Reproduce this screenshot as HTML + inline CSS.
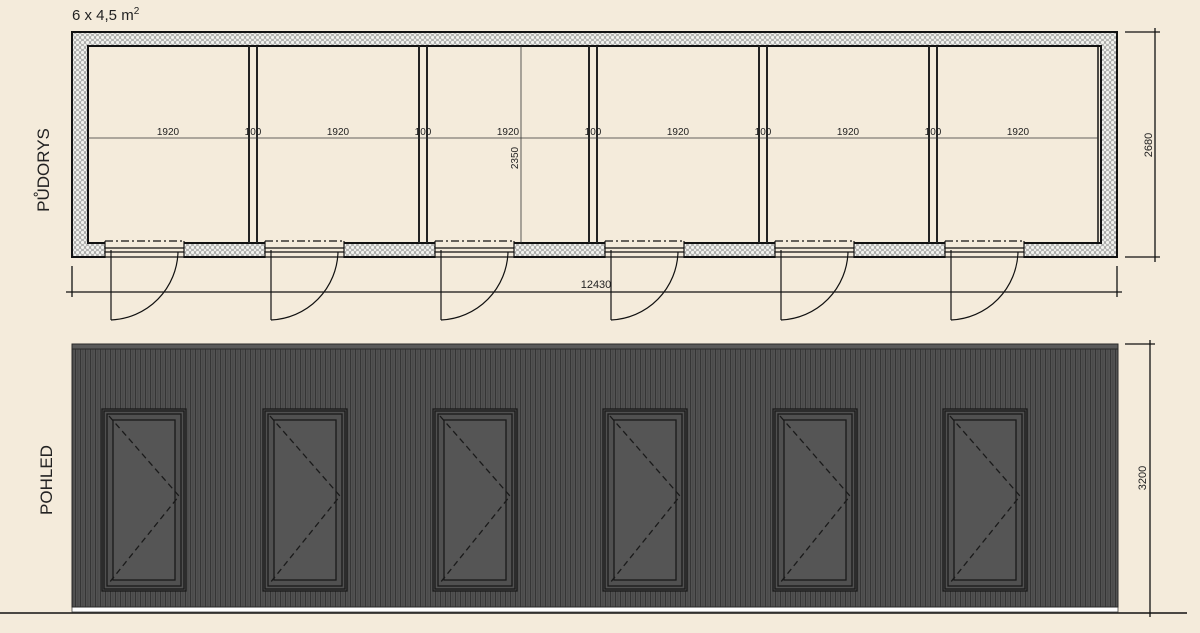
<!DOCTYPE html>
<html><head><meta charset="utf-8"><style>
html,body{margin:0;padding:0;background:#f4ebdb;}
svg{display:block;font-family:"Liberation Sans",sans-serif;}
</style></head><body>
<svg width="1200" height="633" viewBox="0 0 1200 633" xmlns="http://www.w3.org/2000/svg">
<defs>
<pattern id="ins" width="5" height="5" patternUnits="userSpaceOnUse">
<rect width="5" height="5" fill="#f2f2ee"/>
<circle cx="2.5" cy="2.5" r="2" fill="none" stroke="#777" stroke-width="0.6"/>
</pattern>
<pattern id="clad" width="5" height="10" patternUnits="userSpaceOnUse">
<rect width="5" height="10" fill="#525252"/>
<rect x="0" width="1" height="10" fill="#353535"/>
<rect x="2.5" width="0.8" height="10" fill="#444"/>
</pattern>
</defs>
<rect width="1200" height="633" fill="#f4ebdb"/>

<text x="72" y="20" font-size="15" fill="#222">6 x 4,5 m<tspan dy="-6" font-size="10">2</tspan></text>
<text transform="translate(49,170) rotate(-90)" text-anchor="middle" font-size="17" fill="#222">PŮDORYS</text>
<text transform="translate(52,480) rotate(-90)" text-anchor="middle" font-size="17" fill="#222">POHLED</text>

<path d="M72,32 H1117 V257 H72 Z M88,46 V243 H1101 V46 Z" fill="url(#ins)" fill-rule="evenodd" stroke="#111" stroke-width="2"/>
<rect x="88" y="46" width="1013" height="197" fill="#f4ebdb" stroke="#111" stroke-width="2"/>
<line x1="1098" y1="46" x2="1098" y2="243" stroke="#111" stroke-width="1.5"/>
<g stroke="#222" stroke-width="2" fill="none">
<line x1="249" y1="46" x2="249" y2="243"/><line x1="257" y1="46" x2="257" y2="243"/>
<line x1="419" y1="46" x2="419" y2="243"/><line x1="427" y1="46" x2="427" y2="243"/>
<line x1="589" y1="46" x2="589" y2="243"/><line x1="597" y1="46" x2="597" y2="243"/>
<line x1="759" y1="46" x2="759" y2="243"/><line x1="767" y1="46" x2="767" y2="243"/>
<line x1="929" y1="46" x2="929" y2="243"/><line x1="937" y1="46" x2="937" y2="243"/>
</g>
<g stroke="#111" stroke-width="1.2" fill="none">
<g id="door">
<rect x="105" y="241" width="79" height="17" fill="#f4ebdb" stroke="none"/>
<line x1="105" y1="241" x2="184" y2="241" stroke-dasharray="8,3,2,3"/>
<line x1="105" y1="241" x2="105" y2="258"/><line x1="184" y1="241" x2="184" y2="258"/>
<line x1="105" y1="248" x2="184" y2="248"/><line x1="105" y1="252" x2="184" y2="252"/><line x1="105" y1="257" x2="184" y2="257"/>
<line x1="111" y1="250" x2="111" y2="320"/>
<path d="M111,320 A70,70 0 0 0 178,252"/>
</g>
<use href="#door" x="160"/><use href="#door" x="330"/><use href="#door" x="500"/><use href="#door" x="670"/><use href="#door" x="840"/>
</g>
<g stroke="#333" stroke-width="0.8">
<line x1="88" y1="138" x2="1098" y2="138"/>
<line x1="521" y1="46" x2="521" y2="243"/>
</g>
<g font-size="10" fill="#222" text-anchor="middle">
<text x="168" y="135">1920</text><text x="253" y="135">100</text>
<text x="338" y="135">1920</text><text x="423" y="135">100</text>
<text x="508" y="135">1920</text><text x="593" y="135">100</text>
<text x="678" y="135">1920</text><text x="763" y="135">100</text>
<text x="848" y="135">1920</text><text x="933" y="135">100</text>
<text x="1018" y="135">1920</text>
<text transform="translate(518,158) rotate(-90)">2350</text>
</g>
<g stroke="#111" stroke-width="1.3">
<line x1="66" y1="292" x2="1122" y2="292"/>
<line x1="72" y1="266" x2="72" y2="297"/><line x1="1117" y1="266" x2="1117" y2="297"/>
<line x1="1155" y1="28" x2="1155" y2="262"/>
<line x1="1125" y1="32" x2="1160" y2="32"/><line x1="1125" y1="257" x2="1160" y2="257"/>
<line x1="1150" y1="340" x2="1150" y2="617"/>
<line x1="1125" y1="344" x2="1155" y2="344"/>
<line x1="0" y1="613" x2="1187" y2="613" stroke-width="1.5"/>
</g>
<g font-size="11" fill="#222" text-anchor="middle">
<text x="596" y="288">12430</text>
<text transform="translate(1152,145) rotate(-90)">2680</text>
<text transform="translate(1146,478) rotate(-90)">3200</text>
</g>

<rect x="72" y="607" width="1046" height="5" fill="#fff" stroke="#444" stroke-width="0.8"/>
<rect x="72" y="344" width="1046" height="263" fill="url(#clad)" stroke="#2a2a2a" stroke-width="1"/>
<rect x="72" y="344" width="1046" height="5" fill="#5a5a5a" stroke="#2a2a2a" stroke-width="1"/>
<g id="win" fill="none" stroke="#1a1a1a" stroke-width="1.3">
<rect x="102" y="409" width="84" height="182" fill="#505050"/>
<rect x="104" y="411" width="80" height="178"/>
<rect x="107" y="414" width="74" height="172"/>
<rect x="113" y="420" width="62" height="160" fill="#555"/>
<path d="M109,416 L179,496 L109,583" stroke-dasharray="6,4"/>
</g>
<use href="#win" x="161"/><use href="#win" x="331"/><use href="#win" x="501"/><use href="#win" x="671"/><use href="#win" x="841"/>
</svg>
</body></html>
